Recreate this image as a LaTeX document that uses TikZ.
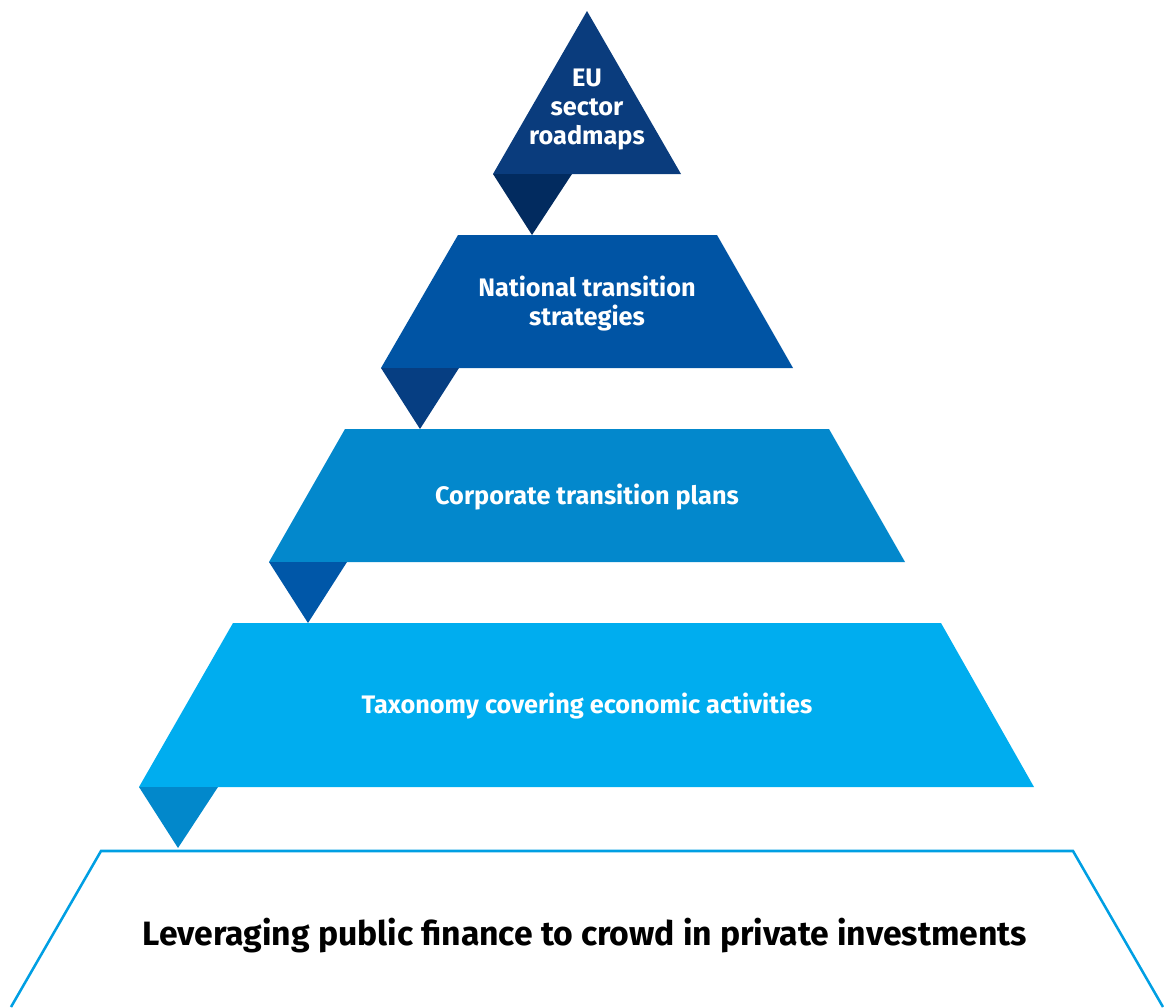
\documentclass[tikz,border=0pt]{standalone}
\usepackage{fontspec}
\setmainfont{Fira Sans}
\definecolor{navy}{HTML}{0A3C7D}
\definecolor{navytab}{HTML}{022B5F}
\definecolor{royal}{HTML}{0054A4}
\definecolor{royaltab}{HTML}{063E82}
\definecolor{ocean}{HTML}{0388CC}
\definecolor{oceantab}{HTML}{0057A8}
\definecolor{sky}{HTML}{00ADEF}
\definecolor{skytab}{HTML}{0288CB}
\definecolor{rim}{HTML}{009FE3}
\tikzset{
  lbl/.style={text=white,align=center,font=\fontsize{18}{20.6}\selectfont\bfseries},
  base/.style={text=black,font=\fontsize{24}{28}\selectfont\bfseries}
}
\begin{document}
\begin{tikzpicture}[x=0.025cm,y=-0.025cm]
\useasboundingbox (0,0) rectangle (1164,1007);
% levels, top to bottom
\fill [navy](587,11) -- (681,174) -- (493,174) -- cycle;
\fill [navytab](493,174) -- (572,174) -- (532,235) -- cycle;
\fill [royal](458,235) -- (717,235) -- (793,368) -- (381,368) -- cycle;
\fill [royaltab](381,368) -- (459,368) -- (420,429) -- cycle;
\fill [ocean](345,429) -- (829,429) -- (905,562) -- (269,562) -- cycle;
\fill [oceantab](269,562) -- (347,562) -- (308,623) -- cycle;
\fill [sky](233,623) -- (941,623) -- (1034,787) -- (139,787) -- cycle;
\fill [skytab](139,787) -- (218,787) -- (178,848) -- cycle;
\draw [rim,line width=1.8pt](11,1007) -- (101,851) -- (1073,851) -- (1163,1007);
% labels
\node [lbl] (eu) at (587,110) {EU\\sector\\roadmaps};
\node [lbl] (national) at (587,304) {National transition\\strategies};
\node [lbl] (corporate) at (587,497) {Corporate transition plans};
\node [lbl] (taxonomy) at (587,706) {Taxonomy covering economic activities};
\node [base] (finance) at (585,936) {Leveraging public finance to crowd in private investments};
\end{tikzpicture}
\end{document}
